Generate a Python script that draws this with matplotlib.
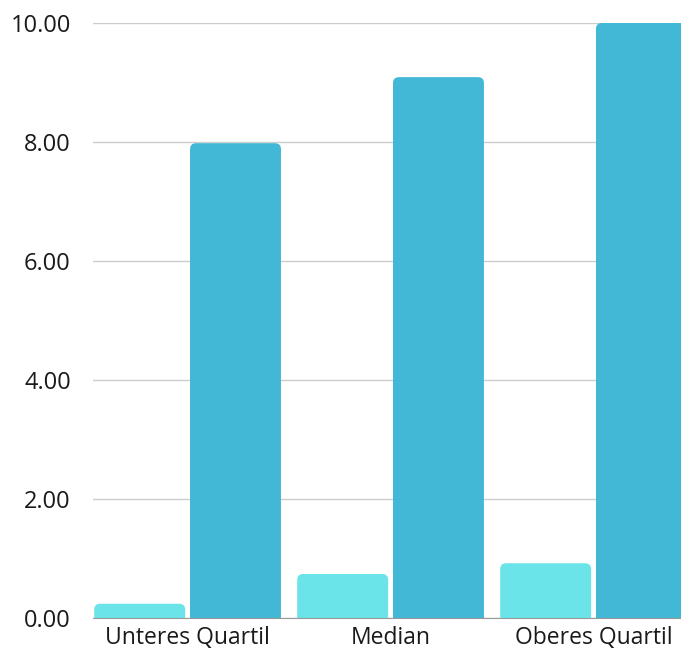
import numpy as np
import matplotlib.pyplot as plt
from matplotlib.patches import FancyBboxPatch

categories = ["Unteres Quartil", "Median", "Oberes Quartil"]
series_a = [0.24, 0.74, 0.92]
series_b = [7.98, 9.09, 10.0]
y_ticks = [0, 2, 4, 6, 8, 10]

plt.rcParams['font.family'] = ['Open Sans', 'DejaVu Sans']

fig = plt.figure(figsize=(6.81, 6.53), dpi=100)
ax = fig.add_axes([0.1366, 0.0536, 0.8634, 0.9112])

x = np.arange(len(categories))
w = 0.448
off = 0.236

#балки
bars_a = ax.bar(x - off, series_a, w, color='#6ae4e8', zorder=3)
bars_b = ax.bar(x + off, series_b, w, color='#42b7d6', zorder=3)

ax.set_xlim(-0.466, 2.431)
ax.set_ylim(0, 10)

#скругленные углы
r = 0.03
asp = 3.3
for bars in (bars_a, bars_b):
    for b in bars:
        b.set_visible(False)
        p = FancyBboxPatch((b.get_x(), -0.3), b.get_width(), b.get_height() + 0.3,
                           boxstyle=f"round,pad=0,rounding_size={r}",
                           mutation_aspect=asp, facecolor=b.get_facecolor(),
                           edgecolor='none', zorder=3)
        ax.add_patch(p)

ax.set_yticks(y_ticks)
ax.set_yticklabels([f"{v:.2f}" for v in y_ticks], fontsize=17, color='#1a1a1a')
ax.set_xticks(x)
ax.set_xticklabels(categories, fontsize=16.5, color='#1a1a1a')
ax.tick_params(length=0, pad=16, axis='y')
ax.tick_params(length=0, pad=6, axis='x')

ax.grid(axis='y', color='#cccccc', linewidth=1, zorder=0)
for s in ['top', 'right', 'left']:
    ax.spines[s].set_visible(False)
ax.spines['bottom'].set_color('#999999')
ax.spines['bottom'].set_zorder(4)

fig.savefig('out.png', dpi=100)
